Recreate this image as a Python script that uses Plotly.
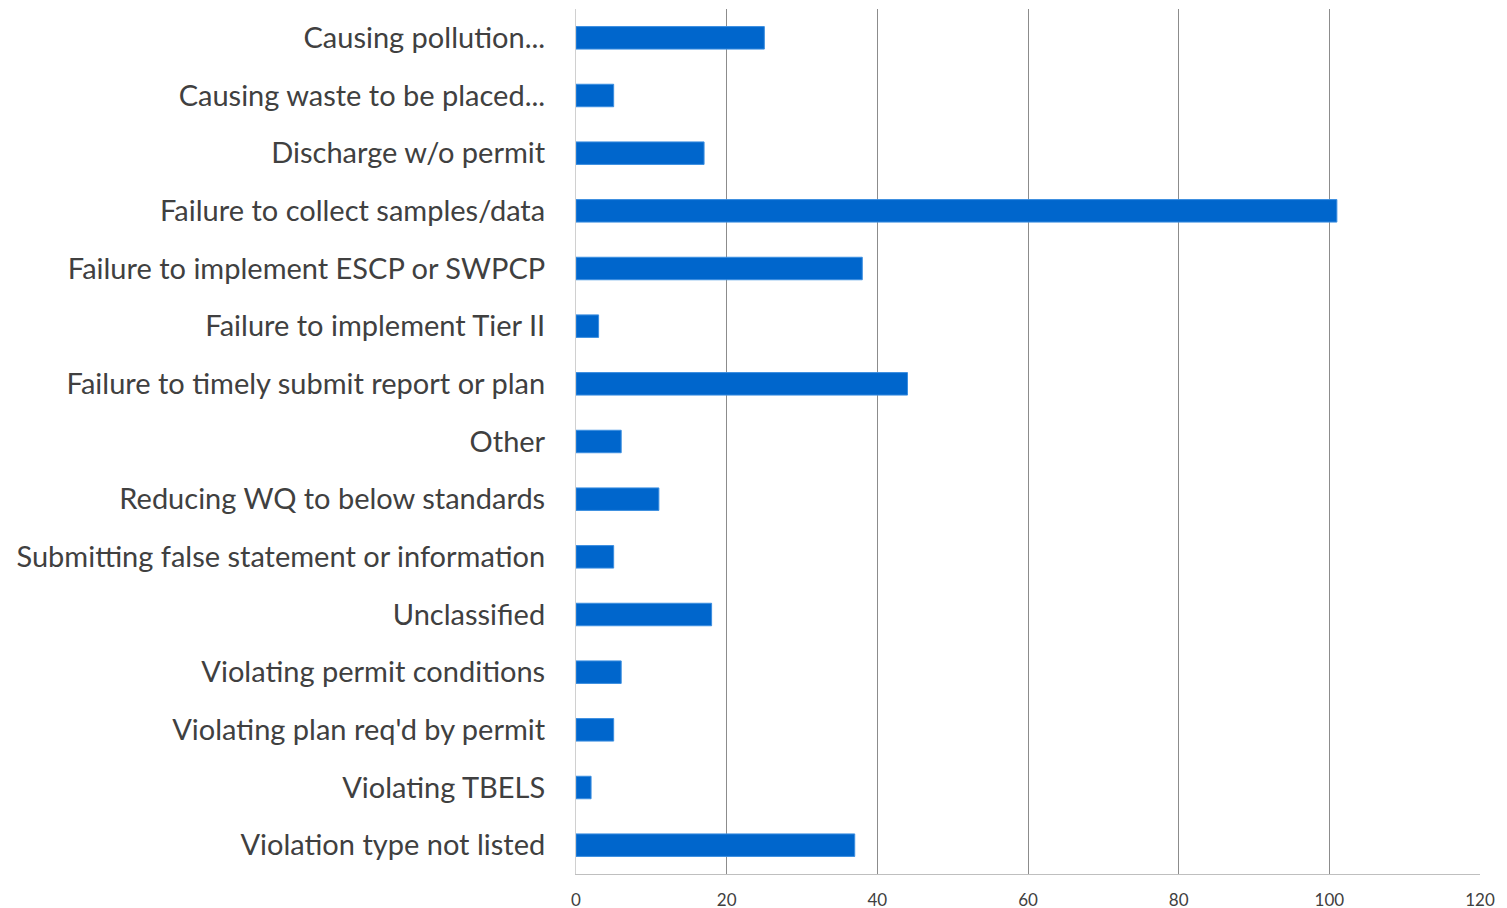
import plotly.graph_objects as go

categories = [
    "Causing pollution...",
    "Causing waste to be placed...",
    "Discharge w/o permit",
    "Failure to collect samples/data",
    "Failure to implement ESCP or SWPCP",
    "Failure to implement Tier II",
    "Failure to timely submit report or plan",
    "Other",
    "Reducing WQ to below standards",
    "Submitting false statement or information",
    "Unclassified",
    "Violating permit conditions",
    "Violating plan req'd by permit",
    "Violating TBELS",
    "Violation type not listed",
]
values = [25, 5, 17, 101, 38, 3, 44, 6, 11, 5, 18, 6, 5, 2, 37]
x_ticks = [0, 20, 40, 60, 80, 100, 120]

fig = go.Figure(
    go.Bar(
        x=values,
        y=categories,
        orientation="h",
        marker=dict(color="#0066CC", line=dict(color="#3B8EE0", width=1)),
        width=0.39,
    )
)

# page body has an 8px margin, so the margins are offset by 8px
fig.update_layout(
    width=1507,
    height=908,
    margin=dict(l=568, r=35, t=1, b=42, autoexpand=False),
    paper_bgcolor="white",
    plot_bgcolor="white",
    showlegend=False,
)
fig.update_xaxes(
    range=[0, 120],
    tickvals=x_ticks,
    ticktext=[str(v) for v in x_ticks],
    showgrid=True,
    gridcolor="#8C8C8C",
    gridwidth=1,
    zeroline=False,
    showline=True,
    linecolor="#BFBFBF",
    linewidth=1,
    tickfont=dict(family="Lato", size=17, color="#404040"),
    ticks="",
    ticklabelstandoff=11,
    fixedrange=True,
)
fig.update_yaxes(
    categoryorder="array",
    categoryarray=categories,
    autorange="reversed",
    showgrid=False,
    zeroline=False,
    showline=True,
    linecolor="#D0D0D0",
    linewidth=1,
    tickfont=dict(family="Lato", size=29, color="#404040"),
    ticks="",
    ticklabelstandoff=24,
    fixedrange=True,
)

fig.write_html("out.html")
